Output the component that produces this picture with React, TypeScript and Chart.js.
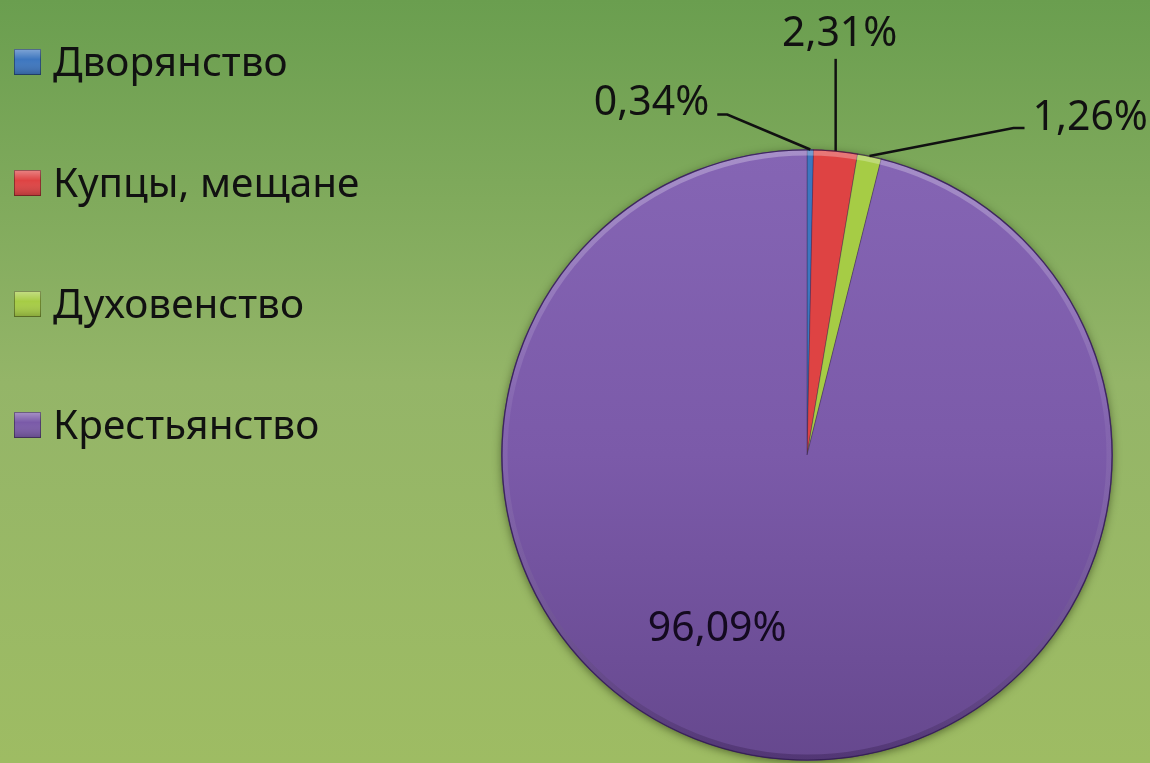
import React, { useEffect, useRef } from "react";
import { Chart, registerables } from "chart.js";

Chart.register(...registerables);

const categories = ["Дворянство", "Купцы, мещане", "Духовенство", "Крестьянство"];
const shares = [0.34, 2.31, 1.26, 96.09];
const sliceColors = ["#3d76bf", "#de4343", "#a6cc45", "#7a5aa8"];
const valueLabels = shares.map((v) => v.toFixed(2).replace(".", ",") + "%");

const FONT = "'Noto Sans', 'DejaVu Sans', sans-serif";

// label placement relative to each slice's outer anchor point
const labelLayout = [
  { kind: "callout", dx: -83, dy: -35, run: -10, gap: 8, base: 0 },
  { kind: "vertical", dy: -92, gap: 13, shift: 4 },
  { kind: "callout", dx: 144, dy: -28, run: 11, gap: 8, base: 2 },
  { kind: "inside", fx: -0.294, fy: 0.569 },
];

const backgroundPlugin = {
  id: "bg",
  beforeDraw(chart: any) {
    const { ctx, width, height } = chart;
    const g = ctx.createLinearGradient(0, 0, 0, height);
    g.addColorStop(0, "#6a9e4f");
    g.addColorStop(0.5, "#94b568");
    g.addColorStop(1, "#9ebc63");
    ctx.save();
    ctx.fillStyle = g;
    ctx.fillRect(0, 0, width, height);
    ctx.restore();
  },
};

const shadowPlugin = {
  id: "pieShadow",
  beforeDatasetsDraw(chart: any) {
    const meta = chart.getDatasetMeta(0);
    const arc = meta.data[0];
    if (!arc) return;
    const { x, y, outerRadius } = arc.getProps(["x", "y", "outerRadius"], true);
    const ctx = chart.ctx;
    ctx.save();
    ctx.shadowColor = "rgba(30,40,10,0.55)";
    ctx.shadowBlur = 8;
    ctx.shadowOffsetY = 2;
    ctx.fillStyle = "#5a3f80";
    ctx.beginPath();
    ctx.arc(x, y, outerRadius, 0, Math.PI * 2);
    ctx.fill();
    ctx.restore();
  },
  afterDatasetsDraw(chart: any) {
    const meta = chart.getDatasetMeta(0);
    const arc = meta.data[0];
    if (!arc) return;
    const { x, y, outerRadius } = arc.getProps(["x", "y", "outerRadius"], true);
    const ctx = chart.ctx;
    ctx.save();
    const g = ctx.createLinearGradient(0, y - outerRadius, 0, y + outerRadius);
    g.addColorStop(0, "rgba(255,255,255,0.28)");
    g.addColorStop(0.45, "rgba(255,255,255,0.06)");
    g.addColorStop(1, "rgba(20,0,40,0.25)");
    ctx.strokeStyle = g;
    ctx.lineWidth = 5;
    ctx.beginPath();
    ctx.arc(x, y, outerRadius - 3.5, 0, Math.PI * 2);
    ctx.stroke();
    ctx.strokeStyle = "rgba(40,20,70,0.7)";
    ctx.lineWidth = 1.2;
    ctx.beginPath();
    ctx.arc(x, y, outerRadius - 0.5, 0, Math.PI * 2);
    ctx.stroke();
    ctx.restore();
  },
};

const labelPlugin = {
  id: "valueLabels",
  afterDraw(chart: any) {
    const ctx = chart.ctx;
    const meta = chart.getDatasetMeta(0);
    ctx.save();
    ctx.font = `41px ${FONT}`;
    ctx.fillStyle = "#111111";
    ctx.strokeStyle = "#111111";
    ctx.lineWidth = 2.5;
    meta.data.forEach((arc: any, i: number) => {
      const p = arc.getProps(["x", "y", "startAngle", "endAngle", "outerRadius"], true);
      const mid = (p.startAngle + p.endAngle) / 2;
      const ax = p.x + Math.cos(mid) * p.outerRadius;
      const ay = p.y + Math.sin(mid) * p.outerRadius;
      const L: any = labelLayout[i];
      const text = valueLabels[i];
      if (L.kind === "callout") {
        const ex = ax + L.dx;
        const ey = ay + L.dy;
        const tx = ex + L.run;
        ctx.beginPath();
        ctx.moveTo(ax, ay);
        ctx.lineTo(ex, ey);
        ctx.lineTo(tx, ey);
        ctx.stroke();
        ctx.textBaseline = "alphabetic";
        if (L.run < 0) {
          ctx.textAlign = "right";
          ctx.fillText(text, tx - L.gap, ey + L.base);
        } else {
          ctx.textAlign = "left";
          ctx.fillText(text, tx + L.gap, ey + L.base);
        }
      } else if (L.kind === "vertical") {
        const ty = ay + L.dy;
        ctx.beginPath();
        ctx.moveTo(ax, ay);
        ctx.lineTo(ax, ty);
        ctx.stroke();
        ctx.textAlign = "center";
        ctx.textBaseline = "alphabetic";
        ctx.fillText(text, ax + L.shift, ty - L.gap);
      } else {
        ctx.textAlign = "center";
        ctx.textBaseline = "middle";
        ctx.fillStyle = "#140a20";
        ctx.fillText(text, p.x + L.fx * p.outerRadius, p.y + L.fy * p.outerRadius);
      }
    });
    ctx.restore();
  },
};

const legendPlugin = {
  id: "customLegend",
  afterDraw(chart: any) {
    const ctx = chart.ctx;
    ctx.save();
    ctx.font = `40.5px ${FONT}`;
    ctx.textAlign = "left";
    ctx.textBaseline = "alphabetic";
    categories.forEach((name, i) => {
      const base = 76 + i * 121;
      const sx = 14;
      const sy = base - 27;
      const sw = 27;
      const sh = 26;
      const g = ctx.createLinearGradient(0, sy, 0, sy + sh);
      g.addColorStop(0, "rgba(255,255,255,0.35)");
      g.addColorStop(0.4, "rgba(255,255,255,0)");
      g.addColorStop(1, "rgba(0,0,0,0.2)");
      ctx.fillStyle = sliceColors[i];
      ctx.fillRect(sx, sy, sw, sh);
      ctx.fillStyle = g;
      ctx.fillRect(sx, sy, sw, sh);
      ctx.strokeStyle = "rgba(0,0,0,0.35)";
      ctx.lineWidth = 1;
      ctx.strokeRect(sx + 0.5, sy + 0.5, sw - 1, sh - 1);
      ctx.fillStyle = "#111111";
      ctx.fillText(name, 53, base);
    });
    ctx.restore();
  },
};

export default function App() {
  const ref = useRef<HTMLCanvasElement | null>(null);
  useEffect(() => {
    if (!ref.current) return;
    const chart = new Chart(ref.current, {
      type: "pie",
      data: {
        labels: categories,
        datasets: [
          {
            data: shares,
            backgroundColor: (c: any) => {
              const i = c.dataIndex;
              if (i !== 3) return sliceColors[i];
              const area = c.chart.chartArea;
              if (!area) return sliceColors[i];
              const g = c.chart.ctx.createLinearGradient(0, area.top, 0, area.bottom);
              g.addColorStop(0, "#8565b4");
              g.addColorStop(0.5, "#7b5aa9");
              g.addColorStop(1, "#66488e");
              return g;
            },
            borderColor: "rgba(50,30,70,0.35)",
            borderWidth: 1,
          },
        ],
      },
      options: {
        responsive: false,
        animation: false,
        devicePixelRatio: 1,
        layout: { padding: { left: 501, right: 37, top: 149, bottom: 2 } },
        plugins: {
          legend: { display: false },
          tooltip: { enabled: false },
        },
      } as any,
      plugins: [backgroundPlugin, shadowPlugin, labelPlugin, legendPlugin],
    });
    return () => chart.destroy();
  }, []);
  return (
    <div style={{ position: "absolute", left: 0, top: 0, width: 1150, height: 763 }}>
      <canvas ref={ref} width={1150} height={763} style={{ display: "block" }} />
    </div>
  );
}
